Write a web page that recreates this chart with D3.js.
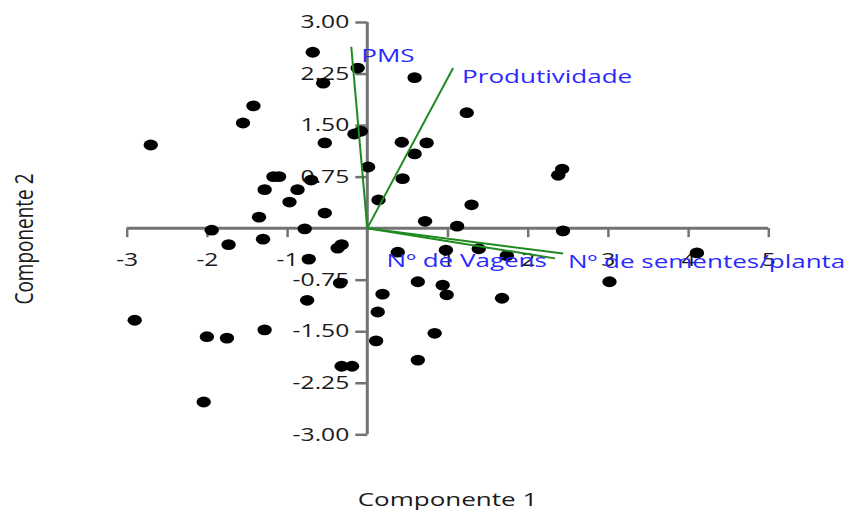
<!DOCTYPE html>
<html>
<head>
<meta charset="utf-8">
<script src="https://cdn.jsdelivr.net/npm/d3@7"></script>
<style>
  html, body { margin: 0; padding: 0; background: #fff; }
  svg { display: block; }
  text { font-family: "Open Sans", "Noto Sans", sans-serif; }
</style>
</head>
<body>
<svg id="chart" width="846" height="514"></svg>
<script>
// ---- data ----
const xTicks = [-3, -2, -1, 1, 2, 3, 4, 5];
const yTicks = [-3, -2.25, -1.5, -0.75, 0.75, 1.5, 2.25, 3];

const scoreX = [-0.68, -0.12, -0.55, -1.42, -1.55, -2.70, -0.16, -0.08, -0.53, 0.01,
                0.43, 0.74, 0.59, 0.44, 0.14, 1.24, 1.30, 0.72, 1.12, 0.59,
                2.38, 2.43, 2.44, -1.17, -1.10, -0.70, -1.28, -0.87, -0.97, -0.53,
                -1.35, -0.78, -1.94, -1.30, -1.73, -0.37, -0.32, -0.73, -0.34, -0.75,
                -2.90, -2.00, -1.75, -1.28, -0.32, -0.19, -2.04, 0.19, 0.13, 0.11,
                0.38, 0.98, 1.39, 1.74, 0.63, 0.94, 0.99, 0.84, 0.63, 1.68,
                3.02, 4.11];
const scoreY = [2.56, 2.33, 2.11, 1.78, 1.53, 1.21, 1.37, 1.41, 1.24, 0.89,
                1.25, 1.24, 1.08, 0.72, 0.41, 1.68, 0.34, 0.10, 0.03, 2.19,
                0.77, 0.86, -0.04, 0.75, 0.75, 0.70, 0.56, 0.56, 0.38, 0.22,
                0.16, -0.01, -0.03, -0.16, -0.24, -0.29, -0.24, -0.45, -0.80, -1.05,
                -1.34, -1.58, -1.60, -1.48, -2.01, -2.01, -2.53, -0.96, -1.22, -1.64,
                -0.35, -0.32, -0.30, -0.40, -0.78, -0.83, -0.97, -1.53, -1.92, -1.02,
                -0.78, -0.36];

const varNames = ["PMS", "Produtividade", "Nº de Vagens", "Nº de sementes/planta"];
const varX = [-0.20, 1.07, 2.34, 2.44];
const varY = [2.64, 2.33, -0.44, -0.37];

// ---- layout / style ----
const SX = 1.37; // horizontal stretch of the original picture
const labelStyle = [
  { dx: 10, dy: 15, anchor: "start" },
  { dx: 9, dy: 15, anchor: "start" },
  { dx: -8, dy: 8.5, anchor: "end" },
  { dx: 5, dy: 14, anchor: "start" }
];

const svg = d3.select("#chart");
const x = d3.scaleLinear().domain([-3, 5]).range([126.7, 768.3]);
const y = d3.scaleLinear().domain([-3, 3]).range([434.3, 22]);
const axisColor = "#737373";
const hyphen = f => d => f(d).replace("\u2212", "-");

// x axis
const gx = svg.append("g").attr("transform", `translate(0,${y(0)})`)
  .call(d3.axisBottom(x).tickValues(xTicks).tickSize(9).tickSizeOuter(0).tickPadding(16)
        .tickFormat(hyphen(d3.format("d"))));
// y axis
const gy = svg.append("g").attr("transform", `translate(${x(0)},0)`)
  .call(d3.axisLeft(y).tickValues(yTicks).tickSize(12).tickSizeOuter(0).tickPadding(6)
        .tickFormat(hyphen(d3.format(".2f"))));

[gx, gy].forEach(g => {
  g.select(".domain").attr("stroke", axisColor).attr("stroke-width", 3);
  g.selectAll(".tick line").attr("stroke", axisColor).attr("stroke-width", 2.5);
  g.selectAll(".tick text")
    .attr("fill", "#1a1a1a")
    .style("font-size", "18px")
    .style("font-family", '"Open Sans", sans-serif')
    .each(function () {
      const t = d3.select(this);
      const ox = +t.attr("x") || 0;
      t.attr("x", ox / SX).attr("transform", `scale(${SX},1)`);
    });
});
gy.select(".domain").attr("d", `M0,${y(-3)}V${y(3)}`);
gx.select(".domain").attr("d", `M${x(-3)},0H${x(5)}`);

// points
svg.append("g").selectAll("ellipse")
  .data(scoreX.map((v, i) => [v, scoreY[i]]))
  .join("ellipse")
  .attr("cx", d => x(d[0]))
  .attr("cy", d => y(d[1]))
  .attr("rx", 7.2)
  .attr("ry", 5.4)
  .attr("fill", "#000");

// loading vectors
const vars = varNames.map((n, i) => ({ name: n, vx: varX[i], vy: varY[i], s: labelStyle[i] }));
svg.append("g").selectAll("line")
  .data(vars)
  .join("line")
  .attr("x1", x(0)).attr("y1", y(0))
  .attr("x2", d => x(d.vx)).attr("y2", d => y(d.vy))
  .attr("stroke", "#1f8a1f")
  .attr("stroke-width", 2);

svg.append("g").selectAll("text")
  .data(vars)
  .join("text")
  .attr("transform", d => `translate(${x(d.vx) + d.s.dx},${y(d.vy) + d.s.dy}) scale(${SX},1)`)
  .attr("text-anchor", d => d.s.anchor)
  .attr("fill", "#2a2aff")
  .style("font-size", "19px")
  .text(d => d.name);

// axis titles
svg.append("text")
  .attr("transform", `translate(${(x(-3) + x(5)) / 2},506) scale(${SX},1)`)
  .attr("text-anchor", "middle")
  .attr("fill", "#1a1a1a")
  .style("font-size", "19px")
  .text("Componente 1");

svg.append("text")
  .attr("transform", `translate(33,239) scale(${SX},1) rotate(-90)`)
  .attr("text-anchor", "middle")
  .attr("fill", "#1a1a1a")
  .style("font-size", "19px")
  .text("Componente 2");
</script>
</body>
</html>
